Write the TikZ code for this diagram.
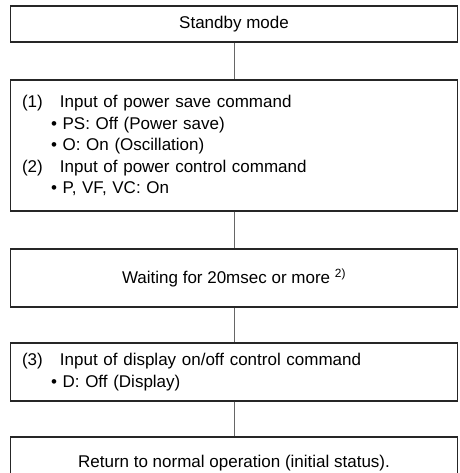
\documentclass[tikz,border=0pt]{standalone}
\usepackage{fontspec}
\setmainfont{Liberation Sans}
\begin{document}
\begin{tikzpicture}[x=1pt,y=-1pt,
  stepbox/.style={draw=black!85,line width=1.3pt,minimum width=447pt,inner sep=0pt,
    font=\fontsize{17}{21.5}\selectfont},
  listbox/.style={stepbox,align=left,inner xsep=11.5pt,text width=424pt},
  link/.style={draw=black!60,line width=1pt}]
  \useasboundingbox (0,0) rectangle (459,473);
  \node[stepbox,minimum height=36pt] (standby) at (234,24) {Standby mode};
  \node[listbox,minimum height=131pt] (commands) at (234,145.5) {%
    \makebox[38pt][l]{(1)}Input of power save command\\
    \hspace*{29pt}\textbullet\ PS: Off (Power save)\\
    \hspace*{29pt}\textbullet\ O: On (Oscillation)\\
    \makebox[38pt][l]{(2)}Input of power control command\\
    \hspace*{29pt}\textbullet\ P, VF, VC: On};
  \node[stepbox,minimum height=58pt] (waiting) at (234,278)
    {Waiting for 20msec or more \textsuperscript{2)}};
  \node[listbox,minimum height=58pt] (display) at (234,372) {%
    \makebox[38pt][l]{(3)}Input of display on/off control command\\
    \hspace*{29pt}\textbullet\ D: Off (Display)};
  \node[stepbox,minimum height=52pt] (normal) at (234,463)
    {Return to normal operation (initial status).};
  \draw[link] (standby) -- (commands);
  \draw[link] (commands) -- (waiting);
  \draw[link] (waiting) -- (display);
  \draw[link] (display) -- (normal);
\end{tikzpicture}
\end{document}
